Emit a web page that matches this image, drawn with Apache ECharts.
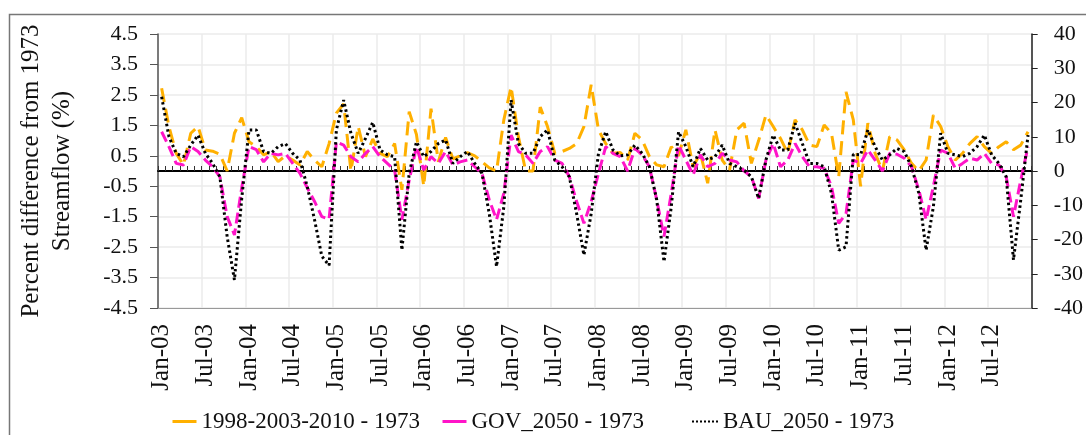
<!DOCTYPE html>
<html>
<head>
<meta charset="utf-8">
<script src="https://cdn.jsdelivr.net/npm/echarts@6/dist/echarts.min.js"></script>
<style>
  html, body { margin: 0; padding: 0; background: #fff; }
  #chart { width: 1086px; height: 435px; }
</style>
</head>
<body>
<div id="chart"></div>
<script>
const monthNames = ['Jan', 'Feb', 'Mar', 'Apr', 'May', 'Jun', 'Jul', 'Aug', 'Sep', 'Oct', 'Nov', 'Dec'];
const years = ['03', '04', '05', '06', '07', '08', '09', '10', '11', '12'];
const categories = [];
years.forEach(y => monthNames.forEach(m => categories.push(m + '-' + y)));

const seriesNames = ['1998-2003-2010 - 1973', 'GOV_2050 - 1973', 'BAU_2050 - 1973'];

// percent difference from 1973, one value per month Jan-03 .. Dec-12
const obs1998 = [
  2.72, 1.46, 0.58, 0.2, 1.24, 1.46, 0.69, 0.65, 0.55, 0.0, 1.24, 1.75,
  0.96, 0.8, 0.53, 0.64, 0.31, 0.5, 0.36, 0.2, 0.64, 0.36, 0.14, 0.9,
  1.9, 2.2, 0.0, 1.46, 0.47, 1.05, 0.58, 0.47, 0.9, -0.62, 1.95, 1.2,
  -0.5, 2.05, 0.3, 1.1, 0.4, 0.5, 0.6, 0.5, 0.3, 0.1, 0.0, 1.68,
  2.77, 1.13, 0.0, 0.0, 2.1, 1.46, 0.58, 0.64, 0.74, 0.9, 1.46, 2.83,
  1.35, 0.9, 0.58, 0.61, 0.36, 1.24, 1.02, 0.47, 0.2, 0.14, 0.8, 0.5,
  1.35, 0.14, 0.58, -0.4, 1.35, 0.36, 0.03, 1.35, 1.57, 0.25, 1.0, 1.84,
  1.46, 1.07, 0.58, 1.68, 1.35, 0.85, 0.8, 1.51, 1.24, -0.19, 2.6, 1.68,
  -0.5, 1.57, 0.58, 0.0, 1.13, 1.02, 0.69, 0.25, 0.0, 0.36, 1.84, 1.46,
  0.8, 0.36, 0.58, 0.9, 1.13, 0.8, 0.58, 0.8, 0.96, 0.7, 0.85, 1.29
];
const gov2050 = [
  1.29, 0.8, 0.25, 0.2, 0.8, 0.64, 0.36, 0.14, -0.19, -1.5, -2.1, -0.55,
  0.8, 0.7, 0.3, 0.58, 0.53, 0.58, 0.25, -0.08, -0.55, -1.0, -1.5, -1.58,
  0.95, 0.85, 0.47, 0.3, 0.58, 0.8, 0.47, 0.25, 0.03, -1.6, -0.3, 0.8,
  0.03, 0.47, 0.25, 0.64, 0.2, 0.3, 0.36, 0.14, -0.08, -0.95, -1.6, -0.73,
  1.18, 0.64, 0.53, 0.25, 0.64, 0.8, 0.36, 0.25, -0.19, -1.0, -1.72, -1.0,
  -0.08, 0.8, 0.58, 0.47, 0.0, 0.74, 0.53, 0.14, -0.95, -2.15, -0.73, 0.85,
  0.36, -0.13, 0.53, 0.14, 0.25, 0.58, 0.36, 0.3, 0.0, -0.19, -0.9, 0.36,
  0.9, 0.14, 0.36, 0.9, 0.47, 0.14, 0.14, 0.09, -0.5, -1.72, -1.4, 0.36,
  0.25, 0.69, 0.36, 0.0, 0.58, 0.55, 0.42, 0.14, -0.62, -1.6, -0.5, 0.69,
  0.58, 0.09, 0.25, 0.42, 0.36, 0.58, 0.25, 0.2, -0.19, -1.5, -0.3, 0.8
];
const bau2050 = [
  2.44, 1.13, 0.58, 0.47, 0.85, 1.18, 0.58, 0.25, -0.19, -2.16, -3.58, -0.9,
  1.35, 1.35, 0.64, 0.58, 0.8, 0.9, 0.58, 0.36, -0.51, -1.6, -2.8, -3.1,
  1.35, 2.33, 1.24, 0.58, 1.07, 1.6, 0.69, 0.53, 0.47, -2.6, -0.08, 0.96,
  0.47, 0.64, 0.9, 1.02, 0.25, 0.47, 0.64, 0.25, -0.08, -1.4, -3.14, -1.17,
  2.33, 0.9, 0.58, 0.58, 1.13, 1.35, 0.36, 0.14, -0.19, -1.4, -2.76, -1.4,
  0.58, 1.29, 0.69, 0.5, 0.53, 0.85, 0.58, 0.14, -0.95, -2.98, -1.17, 1.29,
  0.8, 0.14, 0.74, 0.36, 0.47, 0.85, 0.25, 0.14, 0.03, -0.19, -0.9, 0.36,
  1.18, 0.69, 0.69, 1.57, 0.9, 0.25, 0.25, 0.14, -0.73, -2.6, -2.49, 0.55,
  0.53, 1.35, 0.8, 0.36, 0.53, 0.74, 0.64, 0.14, -0.73, -2.6, -1.17, 1.24,
  0.58, 0.53, 0.47, 0.58, 0.8, 1.18, 0.53, 0.25, -0.19, -2.92, -0.95, 1.18
];

const FONT = 'Liberation Serif';
const TXT = '#111';

const chart = echarts.init(document.getElementById('chart'));

function legendFor(name, left, width, style) {
  return {
    orient: 'horizontal', left: left, top: 405, itemWidth: width, itemHeight: 14, itemGap: 10,
    data: [{ name: name, lineStyle: style, itemStyle: { opacity: 0 } }],
    textStyle: { fontFamily: FONT, fontSize: 23, color: TXT }
  };
}

chart.setOption({
  animation: false,
  backgroundColor: '#fff',
  grid: { left: 158, right: 54, top: 34, bottom: 127 },
  graphic: [{
    type: 'rect', silent: true, z: -10,
    shape: { x: 9.5, y: 14.5, width: 1100, height: 440 },
    style: { fill: 'none', stroke: '#777', lineWidth: 1.5 }
  }],
  legend: [
    legendFor(seriesNames[0], 166, 24, { type: 'solid', color: '#FFB000', width: 3 }),
    legendFor(seriesNames[1], 436, 24, { type: 'solid', color: '#FF14C8', width: 3 }),
    legendFor(seriesNames[2], 686, 26, { type: [2, 2], color: '#000', width: 2 })
  ],
  xAxis: [{
    type: 'category', data: categories, position: 'bottom', boundaryGap: true,
    axisLine: { onZero: false, lineStyle: { color: '#999', width: 1 } },
    axisTick: { show: false },
    axisLabel: { interval: 5, rotate: 90, margin: 16, fontFamily: FONT, fontSize: 25, color: TXT },
    splitLine: { show: true, interval: 5, lineStyle: { color: '#ebebeb', width: 1.5 } }
  }, {
    type: 'category', data: categories, position: 'top', boundaryGap: true,
    axisLine: { onZero: true, lineStyle: { color: '#000', width: 2 } },
    axisTick: { show: true, interval: 0, inside: false, length: 5, lineStyle: { color: '#333', width: 1 } },
    axisLabel: { show: false },
    splitLine: { show: false }
  }],
  yAxis: [{
    type: 'value', position: 'left', min: -4.5, max: 4.5, interval: 1,
    name: 'Percent difference from 1973\nStreamflow (%)',
    nameLocation: 'middle', nameRotate: 90, nameGap: 80,
    nameTextStyle: { fontFamily: FONT, fontSize: 25, lineHeight: 31, color: TXT },
    axisLine: { show: true, lineStyle: { color: '#555', width: 1.5 } },
    axisTick: { show: true, length: 8, lineStyle: { color: '#555' } },
    axisLabel: { margin: 20, fontFamily: FONT, fontSize: 22, color: TXT, formatter: v => v.toFixed(1) },
    splitLine: { lineStyle: { color: '#ebebeb', width: 1.5 } }
  }, {
    type: 'value', position: 'right', min: -40, max: 40, interval: 10,
    axisLine: { show: true, lineStyle: { color: '#222', width: 1.5 } },
    axisTick: { show: true, length: 6, lineStyle: { color: '#222' } },
    axisLabel: { margin: 22, fontFamily: FONT, fontSize: 22, color: TXT },
    splitLine: { show: false }
  }],
  series: [{
    name: seriesNames[0], type: 'line', data: obs1998, symbol: 'none', z: 3,
    itemStyle: { color: '#FFB000' },
    lineStyle: { color: '#FFB000', width: 3, type: [14, 7] }
  }, {
    name: seriesNames[1], type: 'line', data: gov2050, symbol: 'none', z: 4,
    itemStyle: { color: '#FF14C8' },
    lineStyle: { color: '#FF14C8', width: 3, type: [11, 5] }
  }, {
    name: seriesNames[2], type: 'line', data: bau2050, symbol: 'none', z: 5,
    itemStyle: { color: '#000' },
    lineStyle: { color: '#000', width: 3, type: [2.5, 3] }
  }]
});
</script>
</body>
</html>
